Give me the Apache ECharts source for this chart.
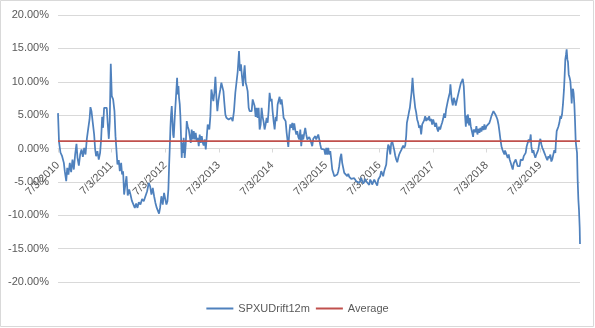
<!DOCTYPE html>
<html>
<head>
<meta charset="utf-8">
<script src="https://cdn.jsdelivr.net/npm/echarts@6/dist/echarts.min.js"></script>
<style>
  html, body { margin: 0; padding: 0; background: #ffffff; }
  #chart { width: 595px; height: 328px; }
</style>
</head>
<body>
<div id="chart"></div>
<script>
// SPXU 12-month drift: [weeks elapsed since 7/3/2010, drift in %]
const driftPoints = [
  [0,5.3],[1,1.0],[2.4,-0.6],[4,-1.15],[5.7,-2.15],[6.6,-3.4],[8,-4.9],[9,-2.9],[10.2,-3.9],[11.5,-2.15],
  [12.8,-3.55],[14.1,-1.65],[15.4,-3.15],[16.7,-0.9],[18,0.7],[19,-1.4],[20.3,-2.55],[21.6,-0.9],[22.9,-0.15],
  [24.2,-1.25],[25.5,0.1],[26.8,-0.9],[28.1,1.45],[29.4,2.95],[30.7,4.35],[31.6,6.2],[32.6,5.6],[33.9,3.85],
  [35.2,2.1],[36.2,-0.15],[37.1,-1.15],[38.4,-0.4],[39.7,-1.65],[41,-0.65],[42,1.35],[43,4.75],[43.9,3.1],
  [44.9,6.1],[46.2,6.35],[47.5,6.1],[48.5,3.6],[49.5,1.45],[50.4,4.1],[51.4,12.7],[52.4,7.85],[53.7,7.35],
  [55,5.6],[56,1.85],[56.9,-0.15],[57.9,-2.4],[59.2,-1.75],[60.2,-3.4],[61.5,-2.15],[62.4,-3.9],[63.4,-3.4],
  [64.4,-6.9],[65.4,-5.65],[66.7,-4.15],[67.9,-7.05],[69.3,-6.15],[70.6,-6.9],[71.9,-7.8],[73.2,-8.05],
  [74.8,-8.9],[76.1,-8.25],[77.4,-8.9],[78.7,-8.05],[80.3,-8.4],[81.9,-7.55],[83.5,-7.9],
  [85.1,-7.65],[86.8,-6.4],[88.4,-5.15],[89.7,-5.65],[91,-6.9],[92.3,-5.9],[93.6,-7.15],[94.9,-8.15],
  [96.2,-8.9],[97.5,-9.15],[98.4,-9.75],[99.4,-8.9],[100.7,-7.15],[102,-8.4],[103.3,-6.65],[104.6,-7.65],
  [105.6,-8.4],[106.6,-7.9],[107.5,-6.15],[108.2,-2.65],[108.8,-0.15],[109.5,3.1],[110.1,5.1],[110.8,6.35],
  [111.4,4.35],[112.1,2.1],[112.7,1.6],[113.7,4.6],[115,4.85],[116,10.6],[116.6,8.1],[117.3,9.35],[117.9,7.6],
  [118.6,6.6],[119.2,4.85],[119.9,1.35],[120.5,-1.4],[121.2,0.85],[121.8,-0.65],[122.4,1.6],[123.4,-1.4],
  [124.4,0.6],[125.4,4.1],[126.3,3.35],[127.3,2.85],[128.3,1.85],[129.3,0.85],[130.2,2.85],[131.2,1.35],
  [132.2,2.6],[133.2,1.35],[134.1,2.35],[135.1,1.1],[136.1,1.6],[137.1,0.35],[138,2.1],[139,0.85],[140,1.85],
  [141,0.85],[141.9,0.45],[142.9,1.35],[143.9,-0.15],[144.8,1.6],[145.8,3.6],[146.8,3.85],[147.4,2.85],
  [148.4,4.85],[149.4,8.85],[150.3,9.1],[151.3,7.1],[152.3,8.35],[153.3,10.75],[154.2,7.85],[155.2,5.6],
  [156.2,7.1],[157.2,8.1],[158.1,8.85],[159.1,9.85],[160.1,10.1],[161.1,8.6],[162,6.85],[163,5.1],[164,4.6],
  [164.9,4.6],[166.2,4.35],[167.5,4.35],[168.8,4.6],[170.1,4.1],[171.4,5.6],[172.7,8.35],
  [173.8,8.6],[175,11.5],[176.3,14.6],[177.2,11.6],[178.2,12.6],[179.2,10.75],[180.2,9.35],[181.1,11.35],
  [181.8,12.45],[182.8,9.85],[183.7,9.35],[184.7,8.6],[185.7,6.1],[186.6,5.6],[187.6,5.45],[188.6,5.6],
  [189.6,7.35],[190.5,7.6],[191.5,6.35],[192.5,4.75],[193.5,6.1],[194.4,4.6],[195.4,6.1],[196.4,2.85],
  [197.4,3.6],[198.3,6.1],[199.3,4.75],[200.3,3.95],[201.2,2.85],[202.2,3.6],[203.2,4.6],[204.2,3.85],
  [205.1,5.6],[206.1,8.35],[207.1,7.1],[208.1,7.45],[209,5.6],[210,4.1],[211,2.85],[212,4.75],[212.9,4.1],
  [213.9,6.6],[214.9,6.85],[215.8,7.75],[216.8,6.6],[217.8,7.35],[218.8,6.1],[219.7,4.6],[220.7,4.6],
  [221.7,4.1],[222.7,2.35],[223.6,2.6],[224.3,0.25],[225.3,2.35],[226.2,3.6],[227.2,3.1],[228.2,3.85],
  [229.1,2.75],[230.1,3.75],[231.1,2.75],[232.1,2.1],[233,2.6],[234,1.75],[235,1.35],[236,2.85],[236.9,0.35],
  [237.9,2.1],[238.9,1.35],[239.9,2.35],[240.8,3.1],[241.8,2.1],[242.8,1.35],[243.7,1.1],[244.7,1.7],
  [245.7,1.35],[246.7,1.6],[247.6,0.35],[248.6,1.45],[249.6,1.6],[250.6,1.85],[251.5,1.35],[252.5,1.75],
  [253.5,2.1],[254.5,1.35],[255.4,0.6],[256.4,-0.05],[257.4,0.1],[258.3,-0.25],[259.3,-0.15],[260.3,-0.9],
  [261.3,0.1],[262.2,-0.9],[263.2,0.1],[264.2,-0.9],[265.2,-0.4],[266.1,-1.65],[267.1,-3.15],[268.1,-3.65],
  [269.1,-4.15],[270,-4.25],[271,-4.15],[272,-3.9],[273,-3.4],[273.9,-2.65],[274.9,-1.4],[275.9,-0.8],
  [276.8,-2.15],[277.8,-2.9],[278.8,-3.65],[279.8,-3.9],[280.7,-3.65],[281.7,-4.15],[282.7,-3.8],[283.7,-4.25],
  [284.6,-4.05],[285.6,-4.55],[286.6,-4.35],[287.5,-4.75],[288.5,-4.45],[289.5,-4.35],[290.5,-4.9],
  [291.4,-5.15],[292.4,-4.65],[293.4,-5.15],[294.4,-4.85],[295.3,-4.4],[296.3,-4.9],[297.3,-5.25],
  [298.3,-4.95],[299.2,-4.55],[300.2,-4.9],[301.2,-4.65],[302.1,-5.05],[303.1,-5.45],[304.1,-4.65],
  [305.1,-4.95],[306,-5.4],[307,-5.05],[308,-4.65],[309,-4.9],[309.9,-5.25],[310.9,-5.55],[311.9,-4.65],
  [312.9,-4.9],[313.8,-4.15],[314.8,-3.4],[315.8,-3.75],[316.7,-4.15],[317.7,-3.4],[318.7,-2.9],[319.7,-2.4],
  [320.6,-0.65],[321.6,0.6],[322.6,0.25],[323.6,-0.9],[324.5,0.75],[325.5,1.1],[326.5,0.85],[327.5,-0.25],
  [328.4,-1.05],[329.4,-1.65],[330.4,-2.05],[331.4,-1.4],[332.3,-0.9],[333.3,-0.55],[334.3,-0.25],[335.2,0.1],
  [336.2,0.45],[337.2,0.1],[338.2,0.45],[339.1,1.85],[339.8,3.85],[340.8,4.6],[341.7,5.35],[342.7,6.1],
  [343.7,6.35],[344.3,8.35],[345.3,10.6],[346.3,8.35],[347.2,7.1],
  [347.9,6.1],[348.8,5.45],[349.8,4.35],[350.8,3.85],[351.7,3.1],[352.7,3.45],[353.7,2.1],[354.7,3.6],
  [355.6,3.35],[356.6,4.2],[357.6,4.85],[358.6,4.1],[359.5,4.6],[360.5,4.25],[361.5,4.85],[362.4,4.1],
  [363.4,4.45],[364.4,3.6],[365.4,4.35],[366.3,4.1],[367.3,3.25],[368.3,3.85],[369.3,2.95],[370.2,2.55],
  [371.2,3.25],[372.2,2.85],[373.2,3.45],[374.1,3.85],[375.1,4.45],[376.1,5.25],[377.1,4.6],[378,5.85],
  [379,6.6],[380,7.35],[380.9,7.95],[381.6,8.35],[382.2,9.6],[382.9,8.25],[383.5,7.25],[384.5,6.45],
  [385.5,7.6],[386.5,7.1],[387.4,6.45],[388.4,6.25],[389.4,7.85],[390.3,8.45],[391.3,9.1],[392.3,9.75],
  [393.3,10.1],[394.2,10.45],[395.2,9.35],[395.9,7.1],[396.5,4.75],[397.2,3.25],[397.8,4.95],[398.5,3.75],
  [399.1,5.1],[399.8,4.45],[400.4,3.45],[401.1,4.55],[402,3.35],[403,3.1],[403.6,2.25],[404.3,1.75],
  [404.9,2.85],[405.6,3.1],[406.6,2.45],[407.5,3.35],[408.5,2.1],[409.5,2.95],[410.5,2.35],[411.4,3.1],
  [412.4,2.55],[413.4,3.35],[414.4,2.75],[415.3,3.6],[416.3,2.85],[417.3,3.35],[418.2,3.6],[419.2,3.1],
  [420.2,3.85],[421.2,4.35],[422.1,4.85],[423.1,5.1],[424.1,5.6],[425.1,5.35],[426,5.1],[427,4.75],
  [428,4.35],[429,3.6],[429.9,2.6],[430.9,1.35],[431.9,0.35],[432.8,-0.15],[433.8,-0.55],[434.8,-0.9],
  [435.4,-0.3],[437,-0.4],[438,-1.4],[439,-0.9],[439.9,-1.65],[440.9,-2.15],[441.9,-2.65],[442.9,-3.15],
  [443.8,-2.25],[444.8,-2.15],[445.8,-1.65],[446.8,-1.9],[447.7,-2.65],[448.7,-2.9],[449.7,-2.65],
  [450.6,-1.65],[451.6,-1.55],[452.6,-1.75],[453.6,-1.15],[454.5,-0.9],[455.5,-0.65],[456.5,0.35],
  [457.5,0.6],[458.4,1.35],[459.4,0.95],[460.4,2.1],[461,0.35],[462,-0.65],[463,-0.25],[463.9,-0.9],
  [464.9,-1.4],[465.9,-0.9],[466.9,-0.55],[467.8,-0.15],[468.8,0.85],[469.8,1.45],[470.8,0.6],[471.7,0.1],
  [472.7,-0.25],[473.7,-0.65],[474.7,-1.05],[475.6,-1.4],[476.6,-1.75],[477.6,-1.15],[478.5,-1.45],
  [479.5,-0.9],[480.5,-1.95],[481.5,-1.55],[482.4,-0.9],[483.4,-0.25],[484.4,-0.65],[485,1.1],[485.7,2.6],
  [486.7,2.75],[487.3,3.25],[488.3,3.85],[489.3,4.85],[489.9,4.45],[490.9,5.1],[491.8,6.6],[492.8,8.85],
  [493.5,11.1],[494.1,13.35],[494.8,14.1],[495.4,14.85],[496.1,13.35],[496.7,12.95],[497.4,11.1],
  [498.3,10.6],[499,10.1],[499.6,8.85],[500.3,6.75],[500.9,8.6],[501.6,8.95],[502.2,8.25],[502.9,6.6],
  [503.5,4.35],[504.2,1.1],[504.8,0.25],[505.5,-0.65],[506.1,-4.65],[506.8,-7.65],[507.4,-9.15],
  [508.1,-11.9],[508.4,-14.3]
];

// Average of the drift series, in %
const averageDrift = 1.1;

// Yearly date ticks along the horizontal axis
const tickLabels = ['7/3/2010','7/3/2011','7/3/2012','7/3/2013','7/3/2014',
                    '7/3/2015','7/3/2016','7/3/2017','7/3/2018','7/3/2019'];

// Value axis range (%)
const yMin = -20, yMax = 20, yStep = 5;

const DAY_MS = 86400000;
const startMs = Date.UTC(2010, 6, 3);
function weeksSinceStart(label) {
  const [m, d, y] = label.split('/').map(Number);
  return (Date.UTC(y, m - 1, d) - startMs) / (7 * DAY_MS);
}
const tickWeeks = tickLabels.map(weeksSinceStart);
function labelForWeek(w) {
  let best = 0;
  tickWeeks.forEach((t, i) => { if (Math.abs(t - w) < Math.abs(tickWeeks[best] - w)) best = i; });
  return tickLabels[best];
}
const lastWeek = driftPoints[driftPoints.length - 1][0];

const GRID_TOP = 15, GRID_BOTTOM = 46, CHART_H = 328;
const plotH = CHART_H - GRID_TOP - GRID_BOTTOM;
// lift the date axis from the bottom edge up to the 0% line
const zeroLift = plotH * (0 - yMin) / (yMax - yMin);

const chart = echarts.init(document.getElementById('chart'), null, { renderer: 'canvas' });
const FONT = 'Liberation Sans, Arial, sans-serif';
const GRAY = '#595959';
const GRID = '#d9d9d9';

chart.setOption({
  animation: false,
  backgroundColor: '#ffffff',
  textStyle: { fontFamily: FONT },
  grid: { left: 58, right: 15, top: GRID_TOP, bottom: GRID_BOTTOM, containLabel: false },
  xAxis: {
    type: 'value',
    position: 'bottom',
    offset: -zeroLift,
    min: 0,
    max: lastWeek,
    splitLine: { show: false },
    axisLine: { onZero: false, lineStyle: { color: GRID, width: 1 } },
    axisTick: { customValues: tickWeeks, length: 4, lineStyle: { color: GRID } },
    axisLabel: {
      customValues: tickWeeks,
      rotate: 45,
      margin: 15,
      color: GRAY,
      fontSize: 11,
      fontFamily: FONT,
      formatter: (v) => labelForWeek(v)
    }
  },
  yAxis: {
    type: 'value',
    min: yMin,
    max: yMax,
    interval: yStep,
    axisLine: { show: false },
    axisTick: { show: false },
    splitLine: { lineStyle: { color: GRID, width: 1 } },
    axisLabel: {
      color: GRAY,
      fontSize: 11,
      fontFamily: FONT,
      margin: 9,
      formatter: (v) => v.toFixed(2) + '%'
    }
  },
  legend: {
    left: 'center',
    top: 298,
    icon: 'rect',
    itemWidth: 27,
    itemHeight: 2,
    itemGap: 6,
    textStyle: { color: GRAY, fontSize: 11, fontFamily: FONT },
    data: ['SPXUDrift12m', 'Average']
  },
  graphic: [{
    type: 'rect',
    silent: true,
    shape: { x: 0.5, y: 0.5, width: 593, height: 326 },
    style: { fill: 'none', stroke: GRID, lineWidth: 1 }
  }],
  series: [
    {
      name: 'SPXUDrift12m',
      type: 'line',
      data: driftPoints,
      symbol: 'none',
      lineStyle: { color: '#4f81bd', width: 1.75 },
      itemStyle: { color: '#4f81bd' }
    },
    {
      name: 'Average',
      type: 'line',
      data: [[0, averageDrift], [lastWeek, averageDrift]],
      symbol: 'none',
      lineStyle: { color: '#c0504d', width: 1.75 },
      itemStyle: { color: '#c0504d' }
    }
  ]
});
</script>
</body>
</html>
